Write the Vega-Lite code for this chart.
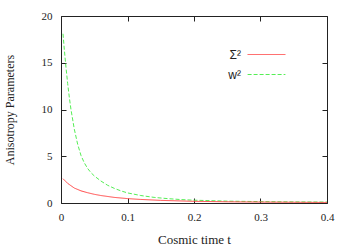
{
  "$schema": "https://vega.github.io/schema/vega-lite/v6.json",
  "width": 266,
  "height": 187,
  "autosize": {"type": "none"},
  "padding": {"left": 61, "top": 16, "right": 23, "bottom": 42},
  "background": "white",
  "config": {
    "view": {"stroke": "#222222", "strokeWidth": 1},
    "axis": {
      "labelFont": "Liberation Serif",
      "titleFont": "Liberation Serif",
      "labelFontSize": 11,
      "titleFontSize": 12,
      "titleFontWeight": "normal",
      "labelColor": "#222222",
      "titleColor": "#222222",
      "labelFlush": false,
      "labelOverlap": false,
      "domain": false,
      "grid": false,
      "tickColor": "#222222",
      "tickSize": -5,
      "tickWidth": 1
    },
    "legend": {
      "orient": "none", "legendX": 198, "legendY": 31,
      "padding": 0,
      "title": null,
      "symbolType": "M-2.7,0H2.7",
      "symbolSize": 196,
      "symbolStrokeWidth": 1,
      "labelFont": "Liberation Sans",
      "labelFontSize": 12,
      "labelColor": "#222222",
      "labelAlign": "right",
      "labelOffset": -33,
      "rowPadding": 6
    }
  },
  "data": {
    "values": [
      {"t": 0.003, "v": 18.1, "s": "w²"},
      {"t": 0.005, "v": 16.4, "s": "w²"},
      {"t": 0.0075, "v": 14.5, "s": "w²"},
      {"t": 0.01, "v": 12.8, "s": "w²"},
      {"t": 0.0125, "v": 11.3, "s": "w²"},
      {"t": 0.015, "v": 10.0, "s": "w²"},
      {"t": 0.02, "v": 7.9, "s": "w²"},
      {"t": 0.025, "v": 6.3, "s": "w²"},
      {"t": 0.03, "v": 5.1, "s": "w²"},
      {"t": 0.035, "v": 4.3, "s": "w²"},
      {"t": 0.04, "v": 3.7, "s": "w²"},
      {"t": 0.045, "v": 3.25, "s": "w²"},
      {"t": 0.05, "v": 2.9, "s": "w²"},
      {"t": 0.06, "v": 2.35, "s": "w²"},
      {"t": 0.07, "v": 1.9, "s": "w²"},
      {"t": 0.08, "v": 1.57, "s": "w²"},
      {"t": 0.09, "v": 1.3, "s": "w²"},
      {"t": 0.1, "v": 1.08, "s": "w²"},
      {"t": 0.12, "v": 0.8, "s": "w²"},
      {"t": 0.14, "v": 0.6, "s": "w²"},
      {"t": 0.16, "v": 0.47, "s": "w²"},
      {"t": 0.18, "v": 0.37, "s": "w²"},
      {"t": 0.2, "v": 0.3, "s": "w²"},
      {"t": 0.25, "v": 0.2, "s": "w²"},
      {"t": 0.3, "v": 0.15, "s": "w²"},
      {"t": 0.35, "v": 0.12, "s": "w²"},
      {"t": 0.4, "v": 0.1, "s": "w²"},
      {"t": 0.003, "v": 2.6, "s": "Σ²"},
      {"t": 0.01, "v": 2.1, "s": "Σ²"},
      {"t": 0.02, "v": 1.6, "s": "Σ²"},
      {"t": 0.03, "v": 1.3, "s": "Σ²"},
      {"t": 0.04, "v": 1.1, "s": "Σ²"},
      {"t": 0.05, "v": 0.93, "s": "Σ²"},
      {"t": 0.06, "v": 0.8, "s": "Σ²"},
      {"t": 0.08, "v": 0.6, "s": "Σ²"},
      {"t": 0.1, "v": 0.47, "s": "Σ²"},
      {"t": 0.12, "v": 0.38, "s": "Σ²"},
      {"t": 0.15, "v": 0.28, "s": "Σ²"},
      {"t": 0.2, "v": 0.18, "s": "Σ²"},
      {"t": 0.25, "v": 0.13, "s": "Σ²"},
      {"t": 0.3, "v": 0.1, "s": "Σ²"},
      {"t": 0.35, "v": 0.08, "s": "Σ²"},
      {"t": 0.4, "v": 0.06, "s": "Σ²"}
    ]
  },
  "resolve": {"axis": {"x": "independent", "y": "independent"}},
  "layer": [
    {
      "mark": {"type": "line", "strokeWidth": 1, "clip": true},
      "encoding": {
        "x": {
          "field": "t", "type": "quantitative",
          "scale": {"domain": [0, 0.4], "nice": false},
          "axis": {"orient": "bottom", "title": "Cosmic time t", "titleFontSize": 13, "values": [0, 0.1, 0.2, 0.3, 0.4], "format": ".1~f", "labelPadding": 13, "titlePadding": 11}
        },
        "y": {
          "field": "v", "type": "quantitative",
          "scale": {"domain": [0, 20], "nice": false},
          "axis": {"orient": "left", "title": "Anisotropy Parameters", "values": [0, 5, 10, 15, 20], "labelPadding": 14, "titlePadding": 25}
        },
        "color": {
          "field": "s", "type": "nominal",
          "scale": {"domain": ["Σ²", "w²"], "range": ["#ff4444", "#55ee55"]}
        },
        "strokeDash": {
          "field": "s", "type": "nominal",
          "scale": {"domain": ["Σ²", "w²"], "range": [[1, 0], [4, 2]]}
        }
      }
    },
    {
      "mark": {"type": "rule", "opacity": 0},
      "encoding": {
        "x": {
          "field": "t", "type": "quantitative",
          "axis": {"orient": "top", "title": null, "labels": false, "values": [0, 0.1, 0.2, 0.3, 0.4]}
        },
        "y": {
          "field": "v", "type": "quantitative",
          "axis": {"orient": "right", "title": null, "labels": false, "values": [0, 5, 10, 15, 20]}
        }
      }
    }
  ]
}
